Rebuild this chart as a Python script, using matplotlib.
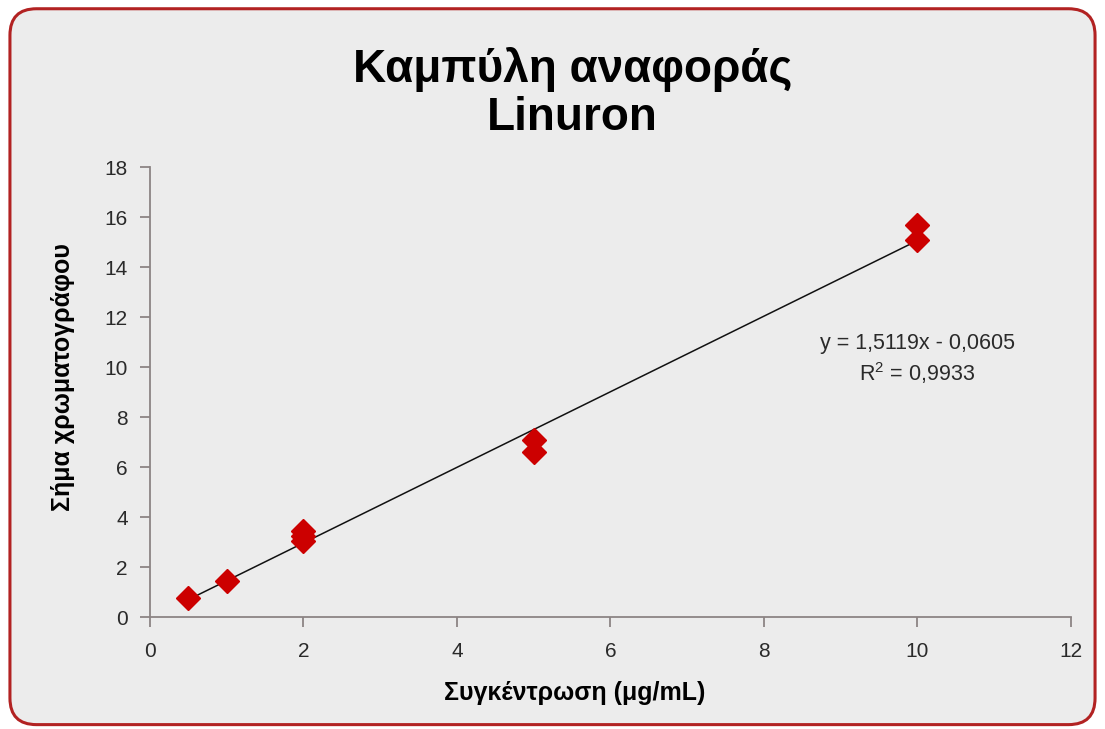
import numpy as np
import matplotlib.pyplot as plt
from matplotlib.patches import FancyBboxPatch

# Calibration data (Linuron)
conc = [0.5, 1, 2, 2, 2, 5, 5, 10, 10]
signal = [0.75, 1.45, 3.45, 3.25, 3.05, 7.08, 6.6, 15.68, 15.08]
slope, intercept = 1.5119, -0.0605
eq_text = 'y = 1,5119x - 0,0605\nR$^2$ = 0,9933'

plt.rcParams['font.family'] = ['Liberation Sans', 'DejaVu Sans']
plt.rcParams['mathtext.fontset'] = 'custom'
plt.rcParams['mathtext.rm'] = 'Liberation Sans'

bg = '#ececec'
fig = plt.figure(figsize=(11.05, 7.29), dpi=100, facecolor='white')
border = FancyBboxPatch((0.009, 0.006), 0.982, 0.982, transform=fig.transFigure,
                        boxstyle='round,pad=0,rounding_size=0.024',
                        facecolor=bg, edgecolor='#b22222', linewidth=2.2,
                        mutation_aspect=1105 / 729, zorder=-5)
fig.add_artist(border)

ax = fig.add_axes([0.1357, 0.1536, 0.8335, 0.6173])
ax.set_facecolor(bg)

xs = np.array([min(conc), max(conc)])
ax.plot(xs, slope * xs + intercept, color='#111111', linewidth=1.1)
ax.plot(conc, signal, linestyle='none', marker='D', markersize=12.5,
        color='#cc0000', markeredgecolor='#cc0000')

ax.set_xlim(0, 12)
ax.set_ylim(0, 18)
ax.set_xticks(range(0, 13, 2))
ax.set_yticks(range(0, 19, 2))
for s in ['top', 'right']:
    ax.spines[s].set_visible(False)
for s in ['left', 'bottom']:
    ax.spines[s].set_color('#8c8484')
    ax.spines[s].set_linewidth(1.3)
ax.tick_params(direction='out', length=7, width=1.3, color='#8c8484',
               labelsize=15, labelcolor='#2a2a2a')
ax.tick_params(axis='y', pad=9)
ax.tick_params(axis='x', pad=11)

ax.text(10.0, 10.3, eq_text, ha='center', va='center', fontsize=15.5,
        color='#2a2a2a', linespacing=1.25)

ax.set_xlabel('Συγκέντρωση (μg/mL)', fontsize=18, fontweight='bold')
ax.set_ylabel('Σήμα χρωματογράφου', fontsize=18, fontweight='bold')
ax.xaxis.set_label_coords(0.4615, -0.143)
ax.yaxis.set_label_coords(-0.081, 0.533)
fig.text(0.518, 0.872, 'Καμπύλη αναφοράς\nLinuron', ha='center', va='center',
         fontsize=33, fontweight='bold', linespacing=1.12)

fig.savefig('out.png', dpi=100, facecolor='white')
